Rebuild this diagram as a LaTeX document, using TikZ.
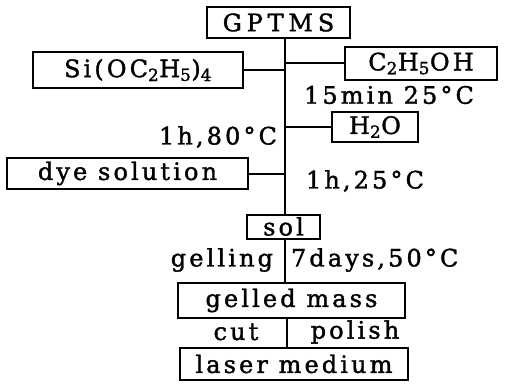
\documentclass[tikz,border=0pt]{standalone}
\usepackage{fontspec}
\setmainfont{DejaVu Serif}[LetterSpace=13.0, FakeBold=1.5]
\usetikzlibrary{positioning}

\begin{document}
\begin{tikzpicture}[x=1pt, y=-1pt, line width=2pt, every node/.style={font=\fontsize{24}{26}\selectfont, inner sep=0pt}]
\useasboundingbox (0,0) rectangle (506,385);
\coordinate (trunk) at (285,0);
\coordinate (trunkb) at (287,0);
% boxes
\node[draw, minimum width=143pt, minimum height=31pt] (gptms) at (278.5,22.5) {\addfontfeature{LetterSpace=20.0}GPTMS};
\node[draw, minimum width=210pt, minimum height=36pt] (si) at (138,70) {Si(OC\textsubscript{2}H\textsubscript{5})\textsubscript{4}};
\node[draw, minimum width=152pt, minimum height=33pt] (etoh) at (421,63.5) {C\textsubscript{2}H\textsubscript{5}OH};
\node[draw, minimum width=86pt, minimum height=30pt] (water) at (375,127) {H\textsubscript{2}O};
\node[draw, minimum width=241pt, minimum height=31pt] (dye) at (127.5,173.5) {dye solution};
\node[draw, minimum width=73pt, minimum height=24pt] (sol) at (283.5,226.5) {sol};
\node[draw, minimum width=227pt, minimum height=35pt] (gel) at (291.5,300.5) {gelled mass};
\node[draw, minimum width=228pt, minimum height=32pt] (laser) at (294,364) {laser medium};
% conditions
\node (c1) at (389,95) {15min 25°C};
\node[anchor=east] (c2) at (278,137) {1h,80°C};
\node (c3) at (365,181) {1h,25°C};
\node[anchor=east] (c4) at (274,260) {gelling};
\node[anchor=west] (c5) at (290,260) {7days,50°C};
\node (c6) at (236,332) {cut};
\node (c7) at (355,332) {polish};
% lines
\draw (gptms.south -| trunk) -- (sol.north -| trunk);
\draw (si.east) -- (si.east -| trunk);
\draw (etoh.west) -- (etoh.west -| trunk);
\draw (water.west) -- (water.west -| trunk);
\draw (dye.east) -- (dye.east -| trunk);
\draw (sol.south -| trunk) -- (gel.north -| trunk);
\draw (gel.south -| trunkb) -- (laser.north -| trunkb);
\end{tikzpicture}
\end{document}
